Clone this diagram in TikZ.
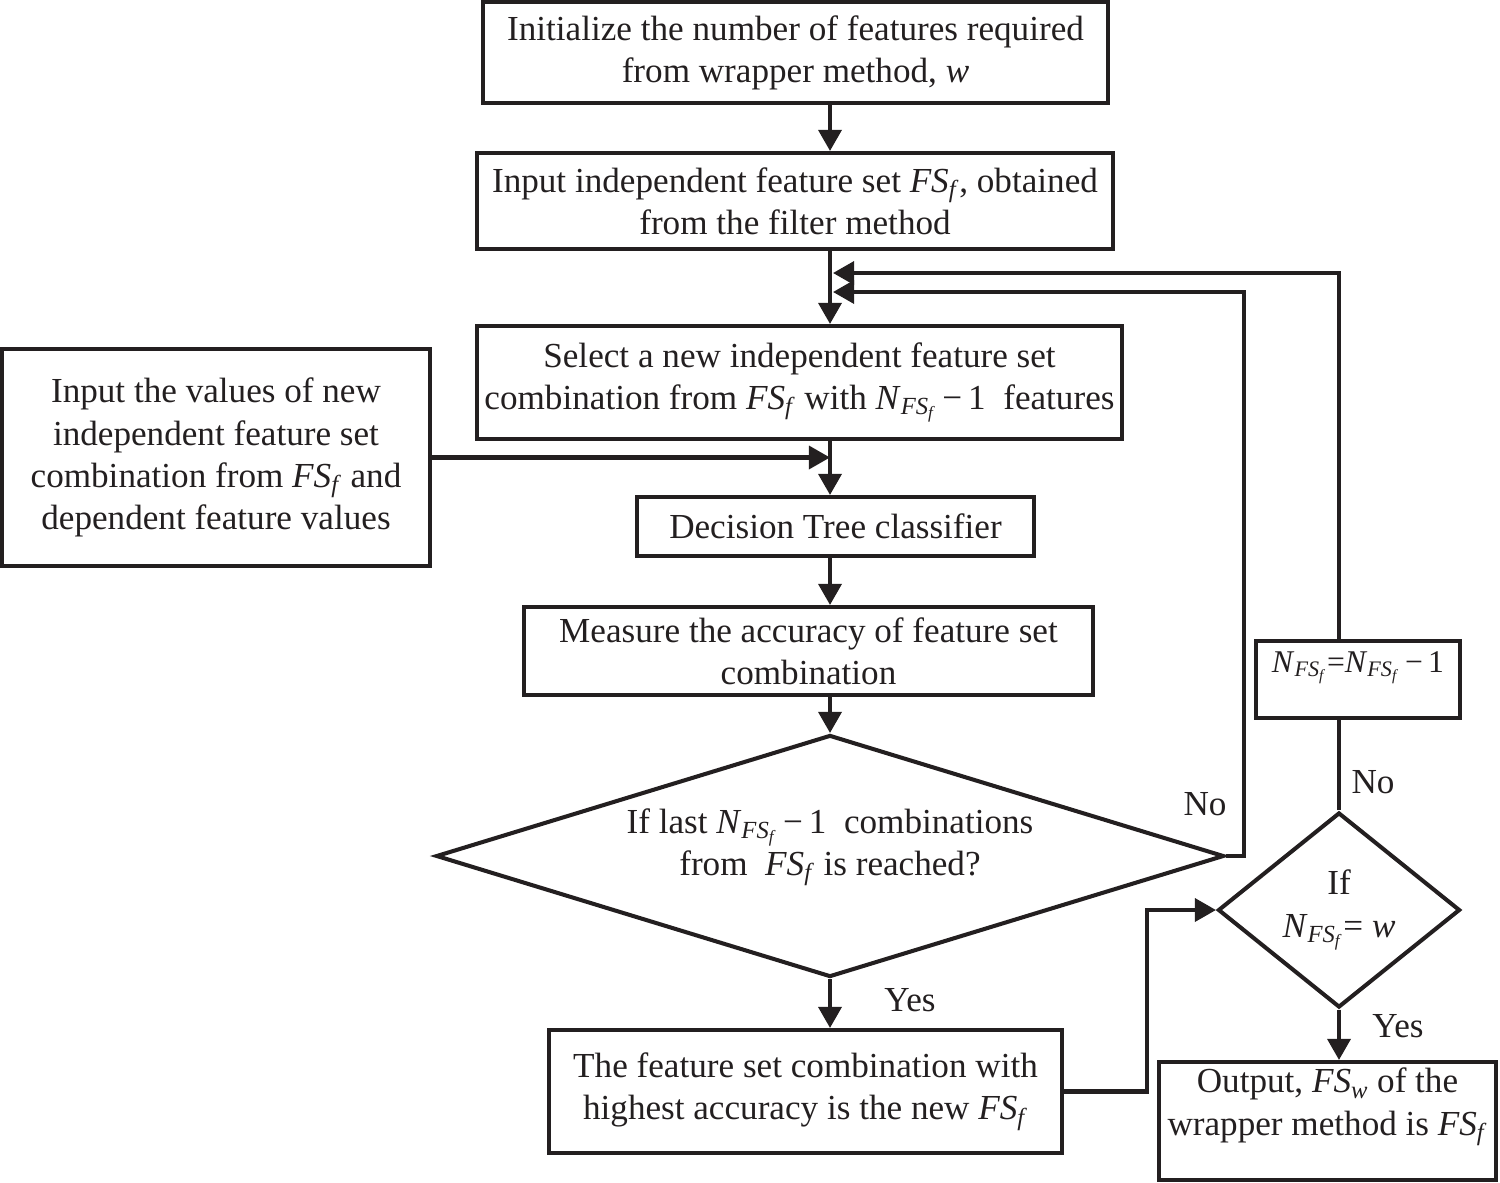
\documentclass[tikz,border=0pt]{standalone}
\usepackage{fontspec}
\setmainfont{Liberation Serif}
\usetikzlibrary{arrows.meta,positioning,shapes.geometric}
\definecolor{ink}{HTML}{231F20}
\newcommand{\fsf}{\textit{FS}\textsubscript{\textit{f}}}
\newcommand{\nfsf}{\textit{N}\textsubscript{\textit{FS}\textsubscript{\textit{f}}}}

\begin{document}
\begin{tikzpicture}[
  font=\fontsize{20}{24}\selectfont,
  every node/.style={text=ink},
  box/.style={draw=ink,line width=2.3pt,align=center,inner sep=0pt},
  cond/.style={draw=ink,diamond,line width=2.3pt,align=center,inner sep=0pt},
  arr/.style={-{Triangle[length=12pt,width=13pt]},color=ink,line width=2.3pt},
  link/.style={draw=ink,line width=2.3pt}
]
\useasboundingbox (0,0) rectangle (30,-23.64);
\node[box,minimum width=12.5cm,minimum height=2.02cm] (init) at (15.91,-1.05)
  {Initialize the number of features required\\from wrapper method, \textit{w}};
\node[box,minimum width=12.72cm,minimum height=1.92cm] (input) at (15.9,-4.02)
  {Input independent feature set \fsf, obtained\\from the filter method};
\node[box,minimum width=12.9cm,minimum height=2.26cm] (select) at (15.99,-7.65)
  {Select a new independent feature set\\combination from \fsf{} with\ \nfsf\,−\,1\ \ features};
\node[box,minimum width=8.56cm,minimum height=4.34cm] (values) at (4.32,-9.15)
  {Input the values of new\\independent feature set\\combination from \fsf{} and\\dependent feature values};
\node[box,minimum width=7.94cm,minimum height=1.18cm] (tree) at (16.71,-10.53)
  {Decision Tree classifier};
\node[box,minimum width=11.38cm,minimum height=1.76cm] (measure) at (16.17,-13.02)
  {Measure the accuracy of feature set\\combination};
\node[cond,minimum width=15.76cm,minimum height=4.84cm,aspect=3.26] (last) at (16.6,-17.12)
  {If last \nfsf\,−\,1\ \ combinations\\from\ \ \fsf{} is reached?\\[-8pt]\mbox{}};
\node[box,minimum width=10.26cm,minimum height=2.46cm] (best) at (16.11,-21.83)
  {The feature set combination with\\highest accuracy is the new \fsf};
\node[cond,minimum width=4.84cm,minimum height=3.9cm,aspect=1.24] (stop) at (26.78,-18.2)
  {If\\\nfsf{}= \textit{w}};
\node[box,minimum width=4.08cm,minimum height=1.54cm,font=\fontsize{18}{22}\selectfont] (dec) at (27.16,-13.59)
  {\nfsf=\nfsf\,−\,1\\[-2pt]\mbox{}};
\node[box,minimum width=6.74cm,minimum height=2.36cm] (out) at (26.55,-22.42)
  {Output, \textit{FS}\textsubscript{\textit{w}} of the\\wrapper method is \fsf\\[-2pt]\mbox{}};

\node (no1) at (24.1,-16.08) {No};
\node (yes1) at (18.2,-20.0) {Yes};
\node (no2) at (27.46,-15.64) {No};
\node (yes2) at (27.96,-20.52) {Yes};

\coordinate (spine) at (16.6,0);
\coordinate (backA) at (16.66,-5.46);
\coordinate (backB) at (16.66,-5.84);
\coordinate (rise) at (24.88,-5.84);
\coordinate (turn) at (22.94,0);

\draw[arr] (spine |- init.south) -- (spine |- input.north);
\draw[arr] (spine |- input.south) -- (spine |- select.north);
\draw[arr] (values.east) -- (spine |- values.east);
\draw[arr] (spine |- select.south) -- (spine |- tree.north);
\draw[arr] (spine |- tree.south) -- (spine |- measure.north);
\draw[arr] (spine |- measure.south) -- (last.north);
\draw[arr] (last.south) -- (last.south |- best.north);
\draw[arr] (last.east) -| (rise) -- (backB);
\draw[arr] (best.east) -| (turn |- stop.west) -- (stop.west);
\draw[link] (stop.north) -- (stop.north |- dec.south);
\draw[arr] (stop.north |- dec.north) |- (backA);
\draw[arr] (stop.south) -- (stop.south |- out.north);
\end{tikzpicture}
\end{document}
